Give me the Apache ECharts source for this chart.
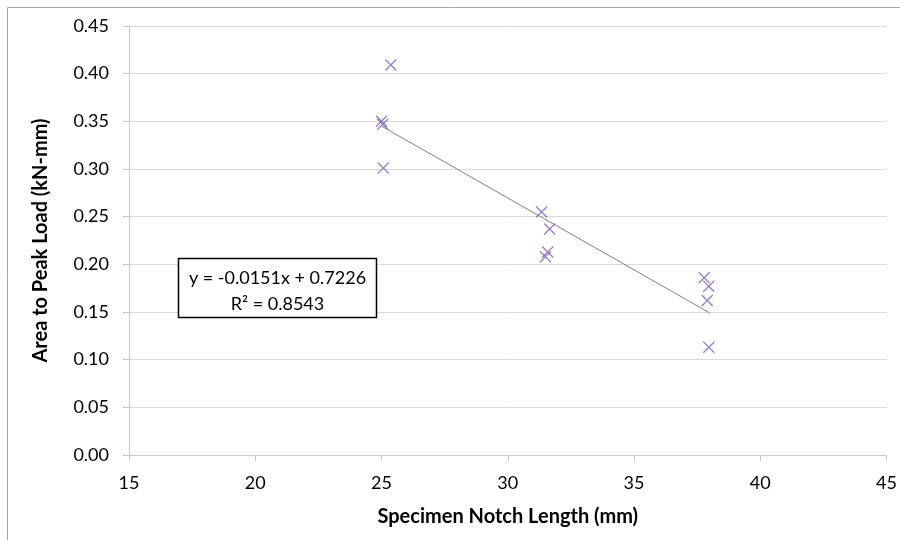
<!DOCTYPE html>
<html>
<head>
<meta charset="utf-8">
<script src="https://cdn.jsdelivr.net/npm/echarts@6/dist/echarts.min.js"></script>
<style>
  html, body { margin: 0; padding: 0; background: #fff; }
  #main { width: 900px; height: 540px; }
</style>
</head>
<body>
<div id="main"></div>
<script>
// notch length (mm) vs area to peak load (kN-mm)
const notchLength = [25.37, 25.0, 25.05, 25.07, 31.34, 31.66, 31.58, 31.49, 37.78, 37.96, 37.9, 37.96];
const areaToPeak = [0.409, 0.350, 0.347, 0.301, 0.255, 0.237, 0.213, 0.208, 0.186, 0.177, 0.162, 0.113];
// linear trend line ends
const trendX = [25.0, 38.0];
const trendY = [0.345, 0.149];
const trendText = ['y = -0.0151x + 0.7226', 'R² = 0.8543'];

const font = 'Lato, "Open Sans", sans-serif';
const cross = 'path://M0,1L1,0L6,5L11,0L12,1L7,6L12,11L11,12L6,7L1,12L0,11L5,6Z';

const myChart = echarts.init(document.getElementById('main'));

const options = {
  animation: false,
  backgroundColor: '#fff',
  grid: { left: 129, right: 11, top: 26, bottom: 85 },
  xAxis: {
    type: 'value',
    min: 15,
    max: 45,
    interval: 5,
    name: 'Specimen Notch Length (mm)',
    nameLocation: 'middle',
    nameGap: 52,
    nameTextStyle: { fontFamily: font, fontSize: 20, fontWeight: 'bold', color: '#000' },
    axisLine: { show: true, lineStyle: { color: '#c8c8c8', width: 1 } },
    axisTick: { show: true, length: 6, lineStyle: { color: '#c8c8c8' } },
    axisLabel: { fontFamily: font, fontSize: 18, color: '#000', margin: 19 },
    splitLine: { show: false }
  },
  yAxis: {
    type: 'value',
    min: 0,
    max: 0.45,
    interval: 0.05,
    name: 'Area to Peak Load (kN-mm)',
    nameLocation: 'middle',
    nameGap: 78,
    nameTextStyle: { fontFamily: font, fontSize: 20, fontWeight: 'bold', color: '#000' },
    axisLine: { show: true, lineStyle: { color: '#c8c8c8', width: 1 } },
    axisTick: { show: true, length: 6, lineStyle: { color: '#c8c8c8' } },
    axisLabel: {
      fontFamily: font, fontSize: 18, color: '#000', margin: 20,
      formatter: v => v.toFixed(2)
    },
    splitLine: { show: true, lineStyle: { color: '#d9d9d9', width: 1 } }
  },
  series: [
    {
      type: 'line',
      data: trendX.map((x, i) => [x, trendY[i]]),
      symbol: 'none',
      lineStyle: { color: '#808080', width: 1 },
      z: 2
    },
    {
      type: 'scatter',
      data: notchLength.map((x, i) => [x, areaToPeak[i]]),
      symbol: cross,
      symbolSize: 12,
      itemStyle: { color: '#7f66b3' },
      z: 3
    }
  ],
  graphic: [
    {
      type: 'rect',
      shape: { x: 7.5, y: 7.5, width: 900, height: 540 },
      style: { fill: 'none', stroke: '#a6a6a6', lineWidth: 1 },
      silent: true
    },
    {
      type: 'rect',
      shape: { x: 178.5, y: 258.5, width: 198, height: 59 },
      style: { fill: '#fff', stroke: '#000', lineWidth: 1.5 },
      z: 10
    },
    {
      type: 'text',
      x: 277.5, y: 278,
      style: { text: trendText[0], font: '18px ' + font, fill: '#000', textAlign: 'center', textVerticalAlign: 'middle' },
      z: 11
    },
    {
      type: 'text',
      x: 277.5, y: 304,
      style: { text: trendText[1], font: '18px ' + font, fill: '#000', textAlign: 'center', textVerticalAlign: 'middle' },
      z: 11
    }
  ]
};

myChart.setOption(options);
</script>
</body>
</html>
